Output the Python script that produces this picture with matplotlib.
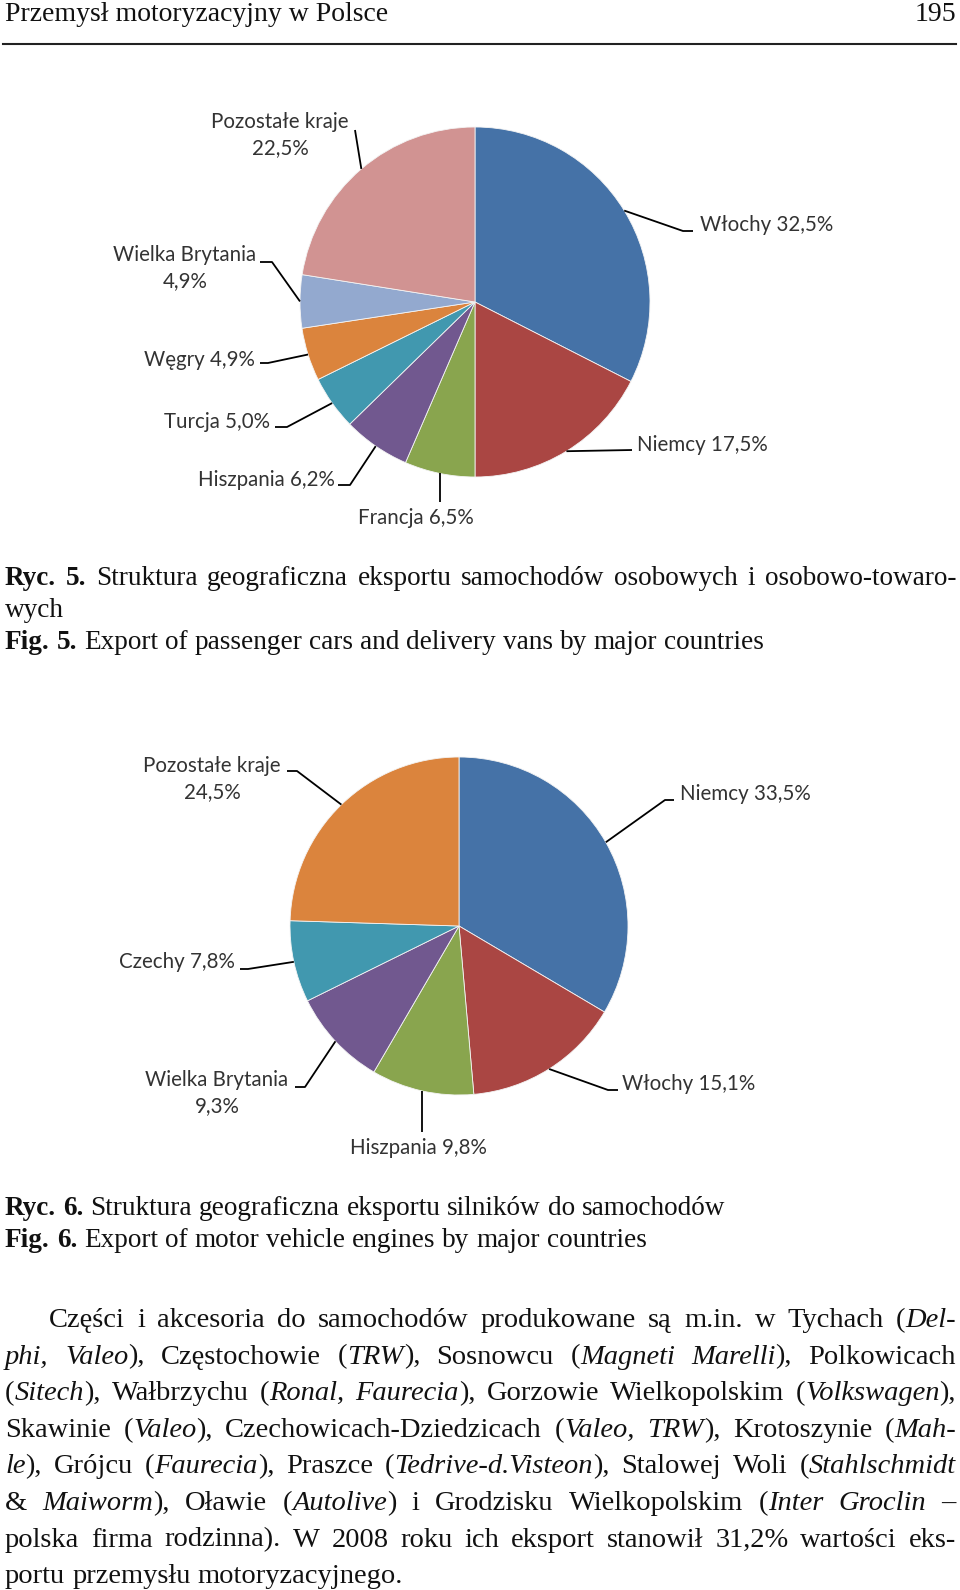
import matplotlib
matplotlib.use('Agg')
import matplotlib.pyplot as plt
import numpy as np

# ---------------- data ----------------
pie1_labels = ["Włochy", "Niemcy", "Francja", "Hiszpania", "Turcja", "Węgry",
               "Wielka Brytania", "Pozostałe kraje"]
pie1_values = [32.5, 17.5, 6.5, 6.2, 5.0, 4.9, 4.9, 22.5]
pie1_colors = ["#4572A7", "#AA4643", "#89A54E", "#71588F", "#4198AF", "#DB843D",
               "#93A9CF", "#D19392"]

pie2_labels = ["Niemcy", "Włochy", "Hiszpania", "Wielka Brytania", "Czechy", "Pozostałe kraje"]
pie2_values = [33.5, 15.1, 9.8, 9.3, 7.8, 24.5]
pie2_colors = ["#4572A7", "#AA4643", "#89A54E", "#71588F", "#4198AF", "#DB843D"]

header_left = "Przemysł motoryzacyjny w Polsce"
header_right = "195"

caption5 = ["^Ryc. 5.^ Struktura geograficzna eksportu samochodów osobowych i osobowo-towaro-",
            "wych",
            "^Fig. 5.^ Export of passenger cars and delivery vans by major countries"]
caption6 = ["^Ryc. 6.^ Struktura geograficzna eksportu silników do samochodów",
            "^Fig. 6.^ Export of motor vehicle engines by major countries"]
paragraph = [
    "Części i akcesoria do samochodów produkowane są m.in. w Tychach (*Del-*",
    "*phi, Valeo*), Częstochowie (*TRW*), Sosnowcu (*Magneti Marelli*), Polkowicach",
    "(*Sitech*), Wałbrzychu (*Ronal, Faurecia*), Gorzowie Wielkopolskim (*Volkswagen*),",
    "Skawinie (*Valeo*), Czechowicach-Dziedzicach (*Valeo, TRW*), Krotoszynie (*Mah-*",
    "*le*), Grójcu (*Faurecia*), Praszce (*Tedrive-d.Visteon*), Stalowej Woli (*Stahlschmidt*",
    "& *Maiworm*), Oławie (*Autolive*) i Grodzisku Wielkopolskim (*Inter Groclin* –",
    "polska firma rodzinna). W 2008 roku ich eksport stanowił 31,2% wartości eks-",
    "portu przemysłu motoryzacyjnego.",
]

# ---------------- figure ----------------
W, H = 960, 1590
fig = plt.figure(figsize=(9.6, 15.9), dpi=100)
ax = fig.add_axes([0, 0, 1, 1])


def Y(y):
    return H - y


SERIF = 'Liberation Serif'
SANS = 'Lato'
FS_HEAD = 20
FS_CAP = 19.6
FS_BODY = 20.5
LABEL_FS = 14.8
LABEL_COLOR = '#333333'
TEXT_COLOR = '#111111'
LEFT, RIGHT = 5, 956

renderer = fig.canvas.get_renderer()


def fmt(v):
    return f"{v:.1f}".replace('.', ',') + '%'


def pie_label(wedge, text, txy, ha, path, linespacing=1.4):
    th = np.deg2rad((wedge.theta1 + wedge.theta2) / 2.0)
    cx, cy = wedge.center
    r = wedge.r
    sx, sy = cx + r * np.cos(th), cy + r * np.sin(th)
    pts = []
    for px, py in path:
        pts.append((sx if px is None else px, Y(py)))
    xs = [sx] + [p[0] for p in pts]
    ys = [sy] + [p[1] for p in pts]
    ax.plot(xs, ys, color='black', lw=1.3, solid_capstyle='butt', zorder=3)
    ax.text(txy[0], Y(txy[1]), text, ha=ha, va='center', multialignment='center',
            fontsize=LABEL_FS, family=SANS, color=LABEL_COLOR, linespacing=linespacing)


# ---------------- pie 1 ----------------
w1, _ = ax.pie(pie1_values, colors=pie1_colors, startangle=90, counterclock=False,
               center=(475, Y(302)), radius=175,
               wedgeprops=dict(edgecolor='#f4f4f4', linewidth=0.6))
lay1 = {
    "Włochy": ((700, 225), 'left', [(683, 231), (693, 231)], False),
    "Niemcy": ((637, 445), 'left', [(632, 450)], False),
    "Francja": ((416, 518), 'center', [(None, 502)], False),
    "Hiszpania": ((335, 480), 'right', [(350, 485), (338, 485)], False),
    "Turcja": ((270, 422), 'right', [(287, 427), (275, 427)], False),
    "Węgry": ((255, 360), 'right', [(268, 363), (260, 363)], False),
    "Wielka Brytania": ((185, 268), 'center', [(272, 262), (260, 262)], True),
    "Pozostałe kraje": ((280, 135), 'center', [(355, 130)], True),
}
for wdg, name, val in zip(w1, pie1_labels, pie1_values):
    txy, ha, path, two = lay1[name]
    txt = f"{name}\n{fmt(val)}" if two else f"{name} {fmt(val)}"
    pie_label(wdg, txt, txy, ha, path)

# ---------------- pie 2 ----------------
w2, _ = ax.pie(pie2_values, colors=pie2_colors, startangle=90, counterclock=False,
               center=(459, Y(926)), radius=169,
               wedgeprops=dict(edgecolor='#f4f4f4', linewidth=0.6))
lay2 = {
    "Niemcy": ((680, 794), 'left', [(665, 800), (674, 800)], False),
    "Włochy": ((622, 1084), 'left', [(608, 1090), (618, 1090)], False),
    "Hiszpania": ((418, 1148), 'center', [(None, 1132)], False),
    "Wielka Brytania": ((217, 1093), 'center', [(305, 1087), (295, 1087)], True),
    "Czechy": ((235, 962), 'right', [(248, 969), (240, 969)], False),
    "Pozostałe kraje": ((212, 779), 'center', [(297, 771), (287, 771)], True),
}
for wdg, name, val in zip(w2, pie2_labels, pie2_values):
    txy, ha, path, two = lay2[name]
    txt = f"{name}\n{fmt(val)}" if two else f"{name} {fmt(val)}"
    pie_label(wdg, txt, txy, ha, path)

ax.set_xlim(0, W)
ax.set_ylim(0, H)
ax.set_aspect('auto')
ax.axis('off')


# ---------------- text helpers ----------------
def parse(line):
    words, cur, buf = [], [], ''
    italic = bold = False
    for ch in line:
        if ch in '*^':
            if buf:
                cur.append((buf, italic, bold))
                buf = ''
            if ch == '*':
                italic = not italic
            else:
                bold = not bold
        elif ch == ' ':
            if buf:
                cur.append((buf, italic, bold))
                buf = ''
            if cur:
                words.append(cur)
                cur = []
        else:
            buf += ch
    if buf:
        cur.append((buf, italic, bold))
    if cur:
        words.append(cur)
    return words


def mk(x, y, s, italic, bold, fs):
    return ax.text(x, Y(y), s, ha='left', va='baseline', family=SERIF, fontsize=fs,
                   style='italic' if italic else 'normal',
                   weight='bold' if bold else 'normal', color=TEXT_COLOR)


def width(s, italic, bold, fs):
    t = mk(0, 0, s, italic, bold, fs)
    w = t.get_window_extent(renderer).width
    t.remove()
    return w


def place_line(line, x0, x1, yb, justify, fs):
    words = parse(line)
    space = width("a a", False, False, fs) - width("aa", False, False, fs)
    wws = [[width(s, it, bd, fs) for s, it, bd in wd] for wd in words]
    total = sum(sum(s) for s in wws)
    if justify and len(words) > 1:
        gap = (x1 - x0 - total) / (len(words) - 1)
    else:
        gap = space
    x = x0
    for wd, segw in zip(words, wws):
        for (s, it, bd), w in zip(wd, segw):
            mk(x, yb, s, it, bd, fs)
            x += w
        x += gap


# ---------------- header ----------------
ax.text(LEFT, Y(21), header_left, ha='left', va='baseline', family=SERIF, fontsize=FS_HEAD,
        color=TEXT_COLOR)
ax.text(RIGHT, Y(21), header_right, ha='right', va='baseline', family=SERIF, fontsize=FS_HEAD,
        color=TEXT_COLOR)
ax.plot([3, RIGHT], [Y(44), Y(44)], color='#222222', lw=1.5)

# ---------------- captions ----------------
place_line(caption5[0], LEFT, RIGHT, 585, True, FS_CAP)
place_line(caption5[1], LEFT, RIGHT, 617, False, FS_CAP)
place_line(caption5[2], LEFT, RIGHT, 649, False, FS_CAP)
place_line(caption6[0], LEFT, RIGHT, 1215, False, FS_CAP)
place_line(caption6[1], LEFT, RIGHT, 1247, False, FS_CAP)

# ---------------- paragraph ----------------
for i, ln in enumerate(paragraph):
    x0 = 49 if i == 0 else LEFT
    place_line(ln, x0, RIGHT, 1327 + 36.6 * i, i < len(paragraph) - 1, FS_BODY)

fig.savefig('out.png', dpi=100, facecolor='white')
